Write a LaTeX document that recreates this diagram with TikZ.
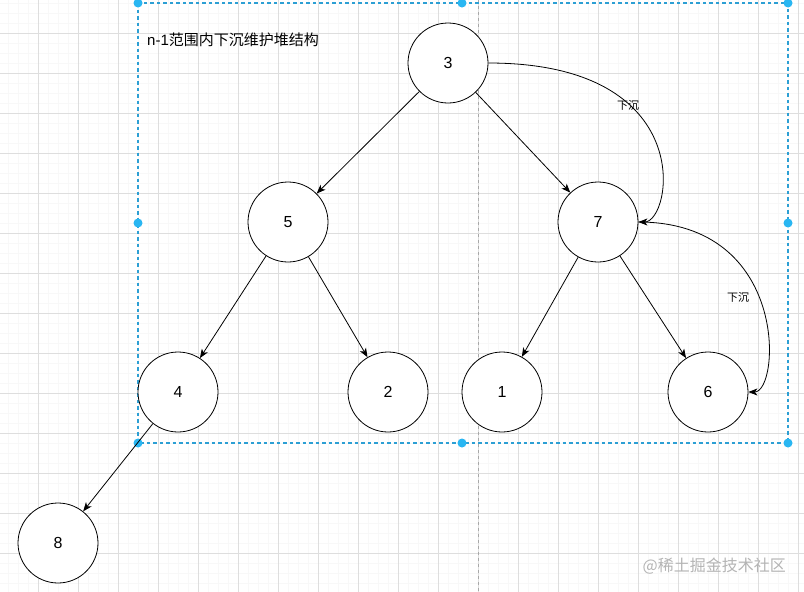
\documentclass[tikz,border=0pt]{standalone}
\usepackage{fontspec}
\setmainfont{Liberation Sans}
\newfontfamily\cjk{Noto Sans CJK SC}
\usetikzlibrary{arrows.meta,positioning}
\definecolor{INK}{HTML}{000000}
\definecolor{GRIDMAJ}{HTML}{DEDEDE}
\definecolor{GRIDMIN}{HTML}{F8F8F8}
\definecolor{GUIDE}{HTML}{A8A8A8}
\definecolor{SEL}{HTML}{2C9FD4}
\definecolor{HANDLE}{HTML}{29B6F2}
\definecolor{MARK}{HTML}{B4B4B4}

\begin{document}
\begin{tikzpicture}[
  x=1pt, y=-1pt,
  heapnode/.style={circle, draw=INK, line width=0.8pt, fill=white,
    minimum size=80pt, inner sep=0pt, font=\fontsize{16}{19}\selectfont},
  link/.style={-{Stealth[length=9pt, width=7pt, inset=2.5pt]}, draw=INK, line width=0.8pt},
  tag/.style={font=\cjk\fontsize{11}{13}\selectfont, text=INK, inner sep=1pt},
  handle/.style={fill=HANDLE, draw=none},
]
\useasboundingbox (0,0) rectangle (804,592);
\fill[white] (0,0) rectangle (804,592);

% ---- grid -----------------------------------------------------------------
\foreach \gx in {8,18,...,798} \draw[GRIDMIN, line width=0.5pt] (\gx,0) -- (\gx,592);
\foreach \gy in {3,13,...,583} \draw[GRIDMIN, line width=0.5pt] (0,\gy) -- (804,\gy);
\foreach \gx in {38,78,...,798} \draw[GRIDMAJ, line width=0.7pt] (\gx,0) -- (\gx,592);
\foreach \gy in {33,73,...,583} \draw[GRIDMAJ, line width=0.7pt] (0,\gy) -- (804,\gy);
\draw[GUIDE, line width=0.7pt, dash pattern=on 3pt off 3pt] (478,0) -- (478,592);

% ---- selection frame ------------------------------------------------------
\draw[SEL, line width=1.1pt, dash pattern=on 3.5pt off 3pt] (138,3) rectangle (788,443);
\foreach \hx/\hy in {138/3, 462/3, 788/3, 138/223, 788/223, 138/443, 462/443, 788/443}
  \fill[handle] (\hx,\hy) circle (4.5pt);

% ---- title ----------------------------------------------------------------
\node[anchor=base west, inner sep=0pt, font=\fontsize{15}{17}\selectfont, text=INK] (title) at (147,45)
  {n-1{\cjk 范围内下沉维护堆结构}};

% ---- heap -----------------------------------------------------------------
\node[heapnode] (n3) at (448,63) {3};
\node[heapnode] (n5) at (288,222) {5};
\node[heapnode] (n7) at (598,222) {7};
\node[heapnode] (n4) at (178,392) {4};
\node[heapnode] (n2) at (388,392) {2};
\node[heapnode] (n1) at (502,392) {1};
\node[heapnode] (n6) at (708,392) {6};
\node[heapnode] (n8) at (58,543) {8};

\draw[link] (n3) -- (n5);
\draw[link] (n3) -- (n7);
\draw[link] (n5) -- (n4);
\draw[link] (n5) -- (n2);
\draw[link] (n7) -- (n1);
\draw[link] (n7) -- (n6);
\draw[link] (n4) -- (n8);

% ---- sift-down curves -----------------------------------------------------
\draw[link] (n3.east) .. controls (700,63) and (672,222) .. (n7.east);
\node[tag] (down1) at (628,105) {下沉};
\draw[link] (n7.east) .. controls (790,222) and (780,392) .. (n6.east);
\node[tag] (down2) at (738,297) {下沉};

% ---- watermark ------------------------------------------------------------
\node[anchor=east, inner sep=0pt, text=MARK, font=\cjk\fontsize{16}{18}\selectfont] (mark) at (786,566)
  {@稀土掘金技术社区};

\end{tikzpicture}
\end{document}
